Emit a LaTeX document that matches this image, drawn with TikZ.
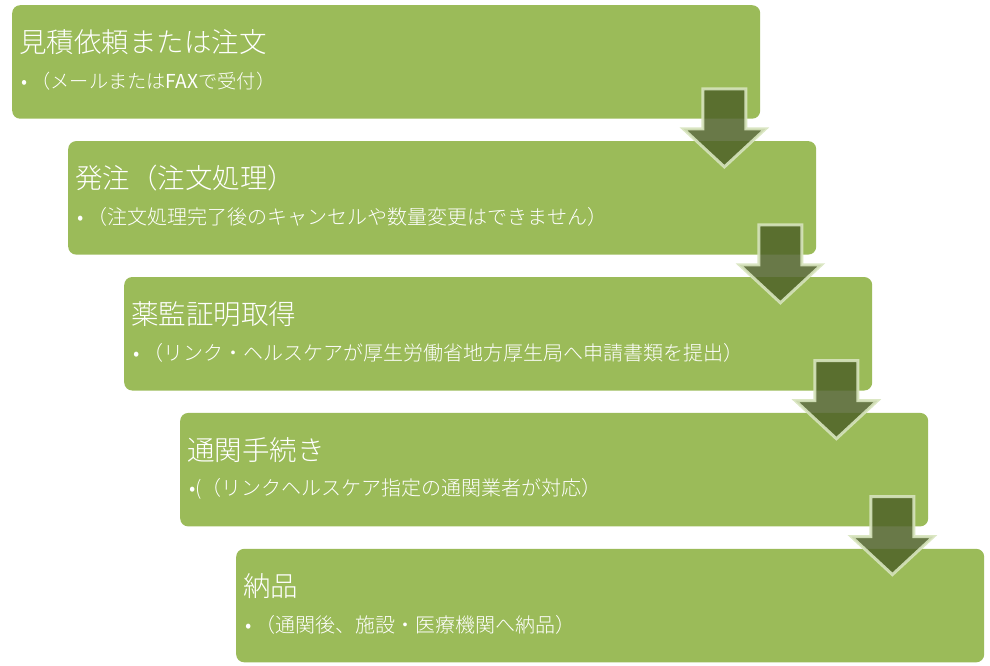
\documentclass[tikz,border=0pt]{standalone}
\usepackage{fontspec}
\IfFontExistsTF{Noto Sans CJK JP Light}
  {\setmainfont{Noto Sans CJK JP Light}[BoldFont={Noto Sans CJK JP}]}
  {\setmainfont{Noto Sans CJK JP}}
\usetikzlibrary{positioning}
\definecolor{boxgreen}{HTML}{9BBB59}
\definecolor{arrowolive}{HTML}{4F6228}
\definecolor{arrowrim}{HTML}{D7E4BD}
\tikzset{
  % one step of the flow
  stepbox/.style = {
    fill = boxgreen,
    rounded corners = 8pt,
    minimum width = 748pt,
    minimum height = 113.5pt,
    inner sep = 0
  },
  % heading of a step
  steptitle/.style = {
    text = white,
    anchor = west,
    inner sep = 0,
    font = \fontsize{27.5}{32}\selectfont
  },
  % bullet line under the heading
  stepnote/.style = {
    text = white,
    anchor = west,
    inner sep = 0,
    font = \fontsize{20}{24}\selectfont
  },
  % block arrow from one step down to the next
  downarrow/.pic = {
    \draw[draw = arrowrim, draw opacity = 0.9, line width = 3pt,
      fill = arrowolive, fill opacity = 0.85, line join = miter]
    (-21.5,0) -- (21.5,0) -- (21.5,-40) -- (41,-40)
    -- (0,-78) -- (-41,-40) -- (-21.5,-40) -- cycle;
  },
  node distance = 22pt
}
\begin{document}
\begin{tikzpicture}[x=1pt, y=1pt]
    \useasboundingbox (0,0) rectangle (990,-665);

    \node[stepbox, anchor=north west] (quote) at (12,-5) {};
    \node[stepbox, below=of quote.south west, anchor=north west, xshift=56pt] (order) {};
    \node[stepbox, below=of order.south west, anchor=north west, xshift=56pt] (permit) {};
    \node[stepbox, below=of permit.south west, anchor=north west, xshift=56pt] (customs) {};
    \node[stepbox, below=of customs.south west, anchor=north west, xshift=56pt] (delivery) {};

    \node[steptitle] (quote-title) at ([xshift=7pt, yshift=-37pt]quote.north west) {見積依頼または注文};
    \node[stepnote, font=\fontsize{19.2}{23}\selectfont] (quote-note) at ([xshift=9pt, yshift=-76pt]quote.north west) {• （メールまたは\textbf{FAX}で受付）};

    \node[steptitle] (order-title) at ([xshift=7pt, yshift=-37pt]order.north west) {発注（注文処理）};
    \node[stepnote] (order-note) at ([xshift=9pt, yshift=-76pt]order.north west) {• （注文処理完了後のキャンセルや数量変更はできません）};

    \node[steptitle] (permit-title) at ([xshift=7pt, yshift=-37pt]permit.north west) {薬監証明取得};
    \node[stepnote] (permit-note) at ([xshift=9pt, yshift=-76pt]permit.north west) {• （リンク・ヘルスケアが厚生労働省地方厚生局へ申請書類を提出）};

    \node[steptitle] (customs-title) at ([xshift=7pt, yshift=-37pt]customs.north west) {通関手続き};
    \node[stepnote] (customs-note) at ([xshift=9pt, yshift=-76pt]customs.north west) {•(（リンクヘルスケア指定の通関業者が対応）};

    \node[steptitle] (delivery-title) at ([xshift=7pt, yshift=-37pt]delivery.north west) {納品};
    \node[stepnote] (delivery-note) at ([xshift=9pt, yshift=-76pt]delivery.north west) {• （通関後、施設・医療機関へ納品）};

    % arrows sit on top of the boxes
    \pic at ([shift={(-36pt,30pt)}]quote.south east) {downarrow};
    \pic at ([shift={(-36pt,30pt)}]order.south east) {downarrow};
    \pic at ([shift={(-36pt,30pt)}]permit.south east) {downarrow};
    \pic at ([shift={(-36pt,30pt)}]customs.south east) {downarrow};
\end{tikzpicture}
\end{document}
